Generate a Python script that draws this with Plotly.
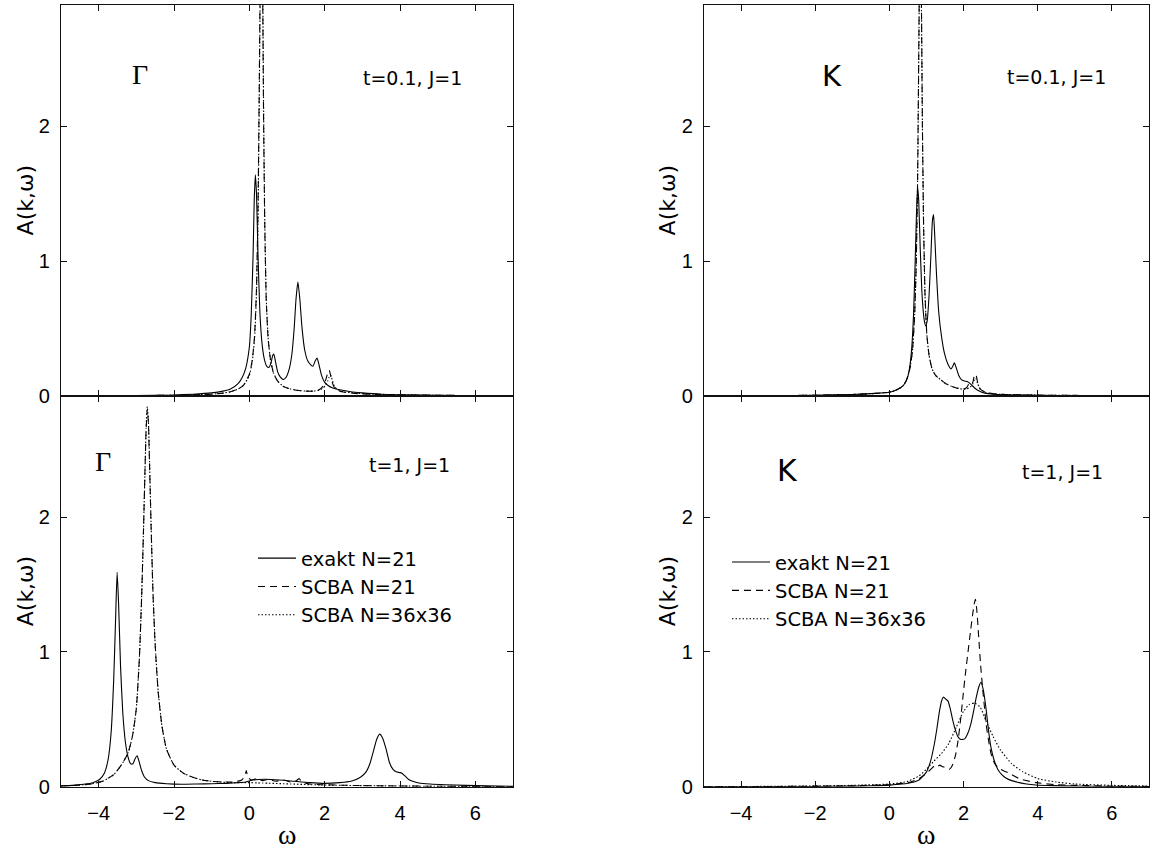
import plotly.graph_objects as go

W, H = 1151, 851

# ---------------- spectral functions A(k, w) ----------------
# Gamma point, t=0.1, J=1
w_g01_ex = [-5, -3, -2, -1.5, -1, -0.7, -0.5, -0.3, -0.2, -0.1, 0.0, 0.05, 0.1, 0.13, 0.16, 0.19,
            0.23, 0.28, 0.34, 0.40, 0.46, 0.52, 0.58, 0.62, 0.65, 0.69, 0.75, 0.82, 0.90, 0.98,
            1.06, 1.13, 1.19, 1.24, 1.29, 1.34, 1.40, 1.47, 1.55, 1.63, 1.69, 1.75, 1.80, 1.85,
            1.92, 2.0, 2.1, 2.2, 2.4, 2.7, 3.0, 3.5, 4.0, 5.0, 6.0, 7.0]
a_g01_ex = [0.0, 0.002, 0.006, 0.012, 0.022, 0.035, 0.05, 0.09, 0.13, 0.2, 0.36, 0.6, 1.05, 1.45, 1.64, 1.5,
            1.05, 0.62, 0.38, 0.27, 0.22, 0.21, 0.25, 0.3, 0.31, 0.26, 0.18, 0.14, 0.12, 0.14,
            0.2, 0.31, 0.5, 0.72, 0.845, 0.72, 0.5, 0.34, 0.26, 0.23, 0.22, 0.26, 0.28, 0.23,
            0.15, 0.1, 0.075, 0.06, 0.045, 0.03, 0.022, 0.012, 0.008, 0.004, 0.002, 0.001]
w_g01_scba = [-5, -3, -2, -1.5, -1, -0.7, -0.5, -0.3, -0.15, 0, 0.08, 0.14, 0.19, 0.23, 0.26, 0.29,
              0.32, 0.35, 0.38, 0.41, 0.45, 0.5, 0.56, 0.64, 0.75, 0.9, 1.1, 1.3, 1.5, 1.7, 1.85,
              1.95, 2.03, 2.08, 2.12, 2.16, 2.2, 2.26, 2.35, 2.5, 2.8, 3.2, 4, 5, 6, 7]
a_g01_scba21 = [0, 0.002, 0.004, 0.007, 0.012, 0.02, 0.03, 0.05, 0.08, 0.16, 0.27, 0.45, 0.8, 1.4, 2.2, 3.1,
                3.6, 3.1, 2.0, 1.25, 0.7, 0.42, 0.27, 0.17, 0.11, 0.07, 0.05, 0.04, 0.035, 0.035, 0.045,
                0.07, 0.12, 0.17, 0.19, 0.15, 0.1, 0.06, 0.04, 0.028, 0.018, 0.012, 0.007, 0.004, 0.002, 0.001]
a_g01_scba36 = [0, 0.002, 0.004, 0.007, 0.012, 0.02, 0.03, 0.05, 0.08, 0.15, 0.26, 0.43, 0.76, 1.3, 2.1, 3.0,
                3.6, 3.2, 2.1, 1.3, 0.72, 0.43, 0.27, 0.17, 0.11, 0.07, 0.05, 0.04, 0.035, 0.035, 0.042,
                0.055, 0.08, 0.11, 0.14, 0.155, 0.12, 0.07, 0.045, 0.03, 0.02, 0.013, 0.008, 0.004, 0.002, 0.001]

# K point, t=0.1, J=1
w_k01_ex = [-5, -3, -2, -1, -0.5, 0, 0.2, 0.37, 0.47, 0.54, 0.6, 0.65, 0.69, 0.73, 0.76, 0.79, 0.83,
            0.88, 0.94, 0.98, 1.02, 1.07, 1.12, 1.16, 1.19, 1.22, 1.27, 1.33, 1.40, 1.48, 1.57, 1.66,
            1.71, 1.75, 1.80, 1.87, 1.94, 2.02, 2.11, 2.2, 2.29, 2.42, 2.57, 2.8, 3.2, 4, 5, 6, 7]
a_k01_ex = [0, 0.002, 0.004, 0.01, 0.016, 0.027, 0.045, 0.075, 0.12, 0.2, 0.35, 0.6, 0.95, 1.35, 1.55, 1.45, 1.1,
            0.75, 0.56, 0.52, 0.56, 0.75, 1.05, 1.3, 1.345, 1.2, 0.9, 0.62, 0.45, 0.32, 0.24, 0.2,
            0.22, 0.245, 0.21, 0.15, 0.12, 0.11, 0.105, 0.085, 0.06, 0.035, 0.02, 0.012, 0.008, 0.004, 0.002, 0.001, 0]
w_k01_scba = [-5, -3, -2, -1, -0.5, 0, 0.2, 0.35, 0.45, 0.55, 0.62, 0.68, 0.72, 0.76, 0.79, 0.83, 0.86,
              0.89, 0.92, 0.96, 1.01, 1.07, 1.15, 1.25, 1.38, 1.52, 1.68, 1.85, 1.98, 2.08, 2.15, 2.2,
              2.25, 2.29, 2.33, 2.38, 2.45, 2.6, 2.9, 3.4, 4, 5, 6, 7]
a_k01_scba21 = [0, 0.002, 0.004, 0.01, 0.016, 0.027, 0.045, 0.07, 0.11, 0.2, 0.33, 0.6, 0.95, 1.6, 2.5, 3.6, 3.0,
                2.0, 1.3, 0.75, 0.45, 0.3, 0.2, 0.15, 0.12, 0.09, 0.07, 0.055, 0.05, 0.06, 0.09, 0.08,
                0.1, 0.15, 0.16, 0.1, 0.05, 0.025, 0.013, 0.008, 0.005, 0.003, 0.001, 0]
a_k01_scba36 = [0, 0.002, 0.004, 0.01, 0.016, 0.027, 0.045, 0.07, 0.11, 0.2, 0.33, 0.6, 0.95, 1.6, 2.5, 3.6, 3.0,
                2.0, 1.3, 0.75, 0.45, 0.3, 0.2, 0.15, 0.12, 0.09, 0.07, 0.055, 0.05, 0.05, 0.06, 0.07,
                0.09, 0.12, 0.13, 0.09, 0.05, 0.025, 0.013, 0.008, 0.005, 0.003, 0.001, 0]

# Gamma point, t=1, J=1
w_g1_ex = [-5, -4.7, -4.4, -4.15, -3.97, -3.85, -3.75, -3.67, -3.6, -3.55, -3.51, -3.47, -3.42, -3.36,
           -3.29, -3.22, -3.15, -3.09, -3.03, -2.98, -2.93, -2.86, -2.78, -2.68, -2.5, -2.2, -1.8, -1.4,
           -1.0, -0.6, -0.3, -0.1, 0.1, 0.4, 0.8, 1.2, 1.6, 2.0, 2.4, 2.7, 2.95, 3.1, 3.2, 3.3, 3.38,
           3.46, 3.54, 3.63, 3.72, 3.81, 3.9, 3.98, 4.05, 4.13, 4.22, 4.34, 4.5, 4.8, 5.2, 5.75, 6.3, 7.0]
a_g1_ex = [0.006, 0.01, 0.018, 0.03, 0.055, 0.1, 0.2, 0.4, 0.8, 1.25, 1.59, 1.35, 0.9, 0.55,
           0.33, 0.22, 0.17, 0.17, 0.21, 0.23, 0.19, 0.12, 0.07, 0.045, 0.03, 0.022, 0.018, 0.02,
           0.022, 0.025, 0.03, 0.035, 0.05, 0.055, 0.05, 0.04, 0.03, 0.025, 0.03, 0.04, 0.07, 0.11, 0.17, 0.27, 0.35,
           0.39, 0.36, 0.28, 0.18, 0.13, 0.11, 0.105, 0.1, 0.08, 0.055, 0.04, 0.028, 0.02, 0.015, 0.01, 0.006, 0.003]
w_g1_scba = [-5, -4.6, -4.2, -3.9, -3.6, -3.4, -3.22, -3.1, -3.0, -2.92, -2.86, -2.81, -2.77, -2.74, -2.71,
             -2.68, -2.65, -2.61, -2.56, -2.5, -2.42, -2.32, -2.2, -2.0, -1.75, -1.5, -1.25, -1.0, -0.7,
             -0.4, -0.2, -0.12, -0.08, -0.04, 0.05, 0.2, 0.35, 0.5, 0.7, 0.9, 1.1, 1.25, 1.32, 1.4, 1.6,
             1.9, 2.3, 3.0, 4.0, 5.0, 6.0, 7.0]
a_g1_scba21 = [0.005, 0.01, 0.02, 0.04, 0.09, 0.16, 0.25, 0.38, 0.58, 0.95, 1.4, 1.9, 2.35, 2.65, 2.8,
               2.7, 2.4, 1.95, 1.45, 1.05, 0.7, 0.45, 0.28, 0.16, 0.1, 0.07, 0.05, 0.04, 0.035,
               0.035, 0.05, 0.08, 0.12, 0.07, 0.05, 0.06, 0.045, 0.055, 0.04, 0.05, 0.035, 0.045, 0.06, 0.035, 0.02,
               0.015, 0.012, 0.008, 0.005, 0.003, 0.002, 0.001]
a_g1_scba36 = [0.005, 0.01, 0.02, 0.04, 0.09, 0.16, 0.25, 0.38, 0.58, 0.95, 1.4, 1.9, 2.35, 2.66, 2.82,
               2.72, 2.42, 1.97, 1.46, 1.06, 0.71, 0.45, 0.28, 0.16, 0.1, 0.07, 0.05, 0.04, 0.033,
               0.03, 0.03, 0.03, 0.03, 0.03, 0.03, 0.028, 0.027, 0.026, 0.024, 0.022, 0.02, 0.019, 0.018, 0.017, 0.015,
               0.013, 0.011, 0.008, 0.005, 0.003, 0.002, 0.001]

# K point, t=1, J=1
w_k1_ex = [-5, -3, -2, -1, -0.5, 0, 0.5, 0.8, 1.0, 1.1, 1.2, 1.28, 1.35, 1.41, 1.46, 1.52, 1.58, 1.64,
           1.71, 1.78, 1.85, 1.93, 2.03, 2.12, 2.2, 2.27, 2.34, 2.41, 2.47, 2.53, 2.61, 2.68, 2.74,
           2.82, 2.92, 3.03, 3.14, 3.3, 3.5, 3.7, 3.95, 4.4, 5, 6, 7]
a_k1_ex = [0, 0.001, 0.002, 0.004, 0.007, 0.012, 0.025, 0.05, 0.11, 0.18, 0.3, 0.43, 0.56, 0.64, 0.665, 0.65, 0.635, 0.58,
           0.49, 0.42, 0.37, 0.35, 0.355, 0.4, 0.47, 0.56, 0.66, 0.74, 0.775, 0.72, 0.57, 0.4, 0.29,
           0.2, 0.13, 0.09, 0.065, 0.045, 0.03, 0.02, 0.013, 0.008, 0.005, 0.002, 0.001]
w_k1_scba21 = [-5, -3, -2, -1, 0, 0.5, 0.8, 1.0, 1.12, 1.22, 1.3, 1.36, 1.42, 1.48, 1.55, 1.62, 1.7, 1.78,
               1.85, 1.92, 1.98, 2.05, 2.12, 2.19, 2.25, 2.29, 2.32, 2.36, 2.41, 2.46, 2.52, 2.57, 2.61,
               2.67, 2.74, 2.84, 2.96, 3.1, 3.23, 3.5, 3.95, 4.5, 5, 6, 7]
a_k1_scba21 = [0, 0.002, 0.004, 0.007, 0.015, 0.03, 0.06, 0.1, 0.13, 0.155, 0.15, 0.16, 0.15, 0.145, 0.13, 0.13, 0.16, 0.23,
               0.34, 0.5, 0.66, 0.84, 1.0, 1.16, 1.29, 1.36, 1.39, 1.3, 1.1, 0.9, 0.71, 0.57, 0.46,
               0.35, 0.245, 0.17, 0.135, 0.115, 0.1, 0.06, 0.03, 0.015, 0.01, 0.005, 0.002]
w_k1_scba36 = [-5, -3, -2, -1, 0, 0.5, 0.8, 1.0, 1.2, 1.4, 1.6, 1.8, 2.0, 2.15, 2.3, 2.45, 2.6, 2.8, 3.0,
               3.3, 3.6, 4.0, 4.5, 5.0, 6.0, 7.0]
a_k1_scba36 = [0, 0.003, 0.006, 0.01, 0.02, 0.04, 0.08, 0.13, 0.19, 0.245, 0.32, 0.44, 0.56, 0.61, 0.62, 0.59,
               0.49, 0.37, 0.27, 0.17, 0.11, 0.06, 0.035, 0.02, 0.01, 0.005]

series_names = ["exakt N=21", "SCBA N=21", "SCBA N=36x36"]
x_ticks = [-4, -2, 0, 2, 4, 6]
y_ticks = [0, 1, 2]
x_range = [-5, 7]
y_range = [0, 2.9]

# ---------------- styling ----------------
SANS = "DejaVu Sans"
TICKFONT = "Liberation Sans"
SERIF = "Liberation Serif"
DASHES = ["solid", "7px,5px", "1.5px,2px"]


def pxx(x):
    return x / W


def pxy(y):
    return 1 - y / H


fig = go.Figure()

panels = [
    # (xaxis, yaxis, legend, [(w, a) for each series])
    ("x", "y", None, [(w_g01_ex, a_g01_ex), (w_g01_scba, a_g01_scba21), (w_g01_scba, a_g01_scba36)]),
    ("x2", "y2", None, [(w_k01_ex, a_k01_ex), (w_k01_scba, a_k01_scba21), (w_k01_scba, a_k01_scba36)]),
    ("x3", "y3", "legend", [(w_g1_ex, a_g1_ex), (w_g1_scba, a_g1_scba21), (w_g1_scba, a_g1_scba36)]),
    ("x4", "y4", "legend2", [(w_k1_ex, a_k1_ex), (w_k1_scba21, a_k1_scba21), (w_k1_scba36, a_k1_scba36)]),
]

for xa, ya, leg, curves in panels:
    for name, dash, (w, a) in zip(series_names, DASHES, curves):
        kw = dict(showlegend=False)
        if leg is not None:
            kw = dict(showlegend=True, legend=leg)
        fig.add_trace(go.Scatter(
            x=w, y=a, mode="lines", name=name, xaxis=xa, yaxis=ya,
            line=dict(color="black", width=1.1, dash=dash, shape="spline", smoothing=0.5),
            hoverinfo="skip", **kw))

dom_x_left = [pxx(61), pxx(513)]
dom_x_right = [pxx(704), pxx(1149)]
dom_y_top = [pxy(401), pxy(5)]
dom_y_bot = [pxy(797), pxy(401)]

axis_common = dict(
    showline=True, linecolor="#111", linewidth=1.3, mirror="allticks",
    ticks="inside", ticklen=6, tickwidth=1, tickcolor="#111",
    showgrid=False, zeroline=False,
    tickfont=dict(family=TICKFONT, size=20, color="black"),
)

xcfg = dict(axis_common, range=x_range, tickvals=x_ticks, ticklabelstandoff=8)
ycfg = dict(axis_common, range=y_range, tickvals=y_ticks, ticklabelstandoff=6)

fig.update_layout(
    xaxis=dict(xcfg, domain=dom_x_left, anchor="y", showticklabels=False),
    yaxis=dict(ycfg, domain=dom_y_top, anchor="x"),
    xaxis2=dict(xcfg, domain=dom_x_right, anchor="y2", showticklabels=False),
    yaxis2=dict(ycfg, domain=dom_y_top, anchor="x2"),
    xaxis3=dict(xcfg, domain=dom_x_left, anchor="y3"),
    yaxis3=dict(ycfg, domain=dom_y_bot, anchor="x3"),
    xaxis4=dict(xcfg, domain=dom_x_right, anchor="y4"),
    yaxis4=dict(ycfg, domain=dom_y_bot, anchor="x4"),
)

legend_common = dict(
    xanchor="left", yanchor="top", bgcolor="rgba(0,0,0,0)", borderwidth=0,
    font=dict(family=SANS, size=19.5, color="black"), itemwidth=38,
    tracegroupgap=0, traceorder="normal",
)
fig.update_layout(
    legend=dict(legend_common, x=pxx(253), y=pxy(546)),
    legend2=dict(legend_common, x=pxx(727), y=pxy(550)),
)

annotations = []


def note(text, x, y, family, size, xanchor="center", angle=0):
    annotations.append(dict(
        text=text, x=pxx(x), y=pxy(y), xref="paper", yref="paper",
        xanchor=xanchor, yanchor="middle", showarrow=False, textangle=angle,
        font=dict(family=family, size=size, color="black")))


note("Γ", 140, 75, SERIF, 28)
note("t=0.1, J=1", 361, 79, SANS, 19, xanchor="left")
note("K", 832, 77, SANS, 29)
note("t=0.1, J=1", 1005, 78, SANS, 19, xanchor="left")
note("Γ", 103, 468, SERIF, 28)
note("t=1, J=1", 367, 471, SANS, 19, xanchor="left")
note("K", 787, 477, SANS, 30)
note("t=1, J=1", 1020, 478, SANS, 19, xanchor="left")
for xc in (25, 667):
    for yc in (203, 599):
        note("A(k,ω)", xc, yc, SANS, 22, angle=-90)
note("ω", 287, 845, SERIF, 28)
note("ω", 926, 845, SERIF, 28)

fig.update_layout(
    annotations=annotations,
    width=W, height=H, autosize=False,
    margin=dict(l=0, r=0, t=0, b=0),
    paper_bgcolor="white", plot_bgcolor="white",
)

fig.write_html("out.html")
